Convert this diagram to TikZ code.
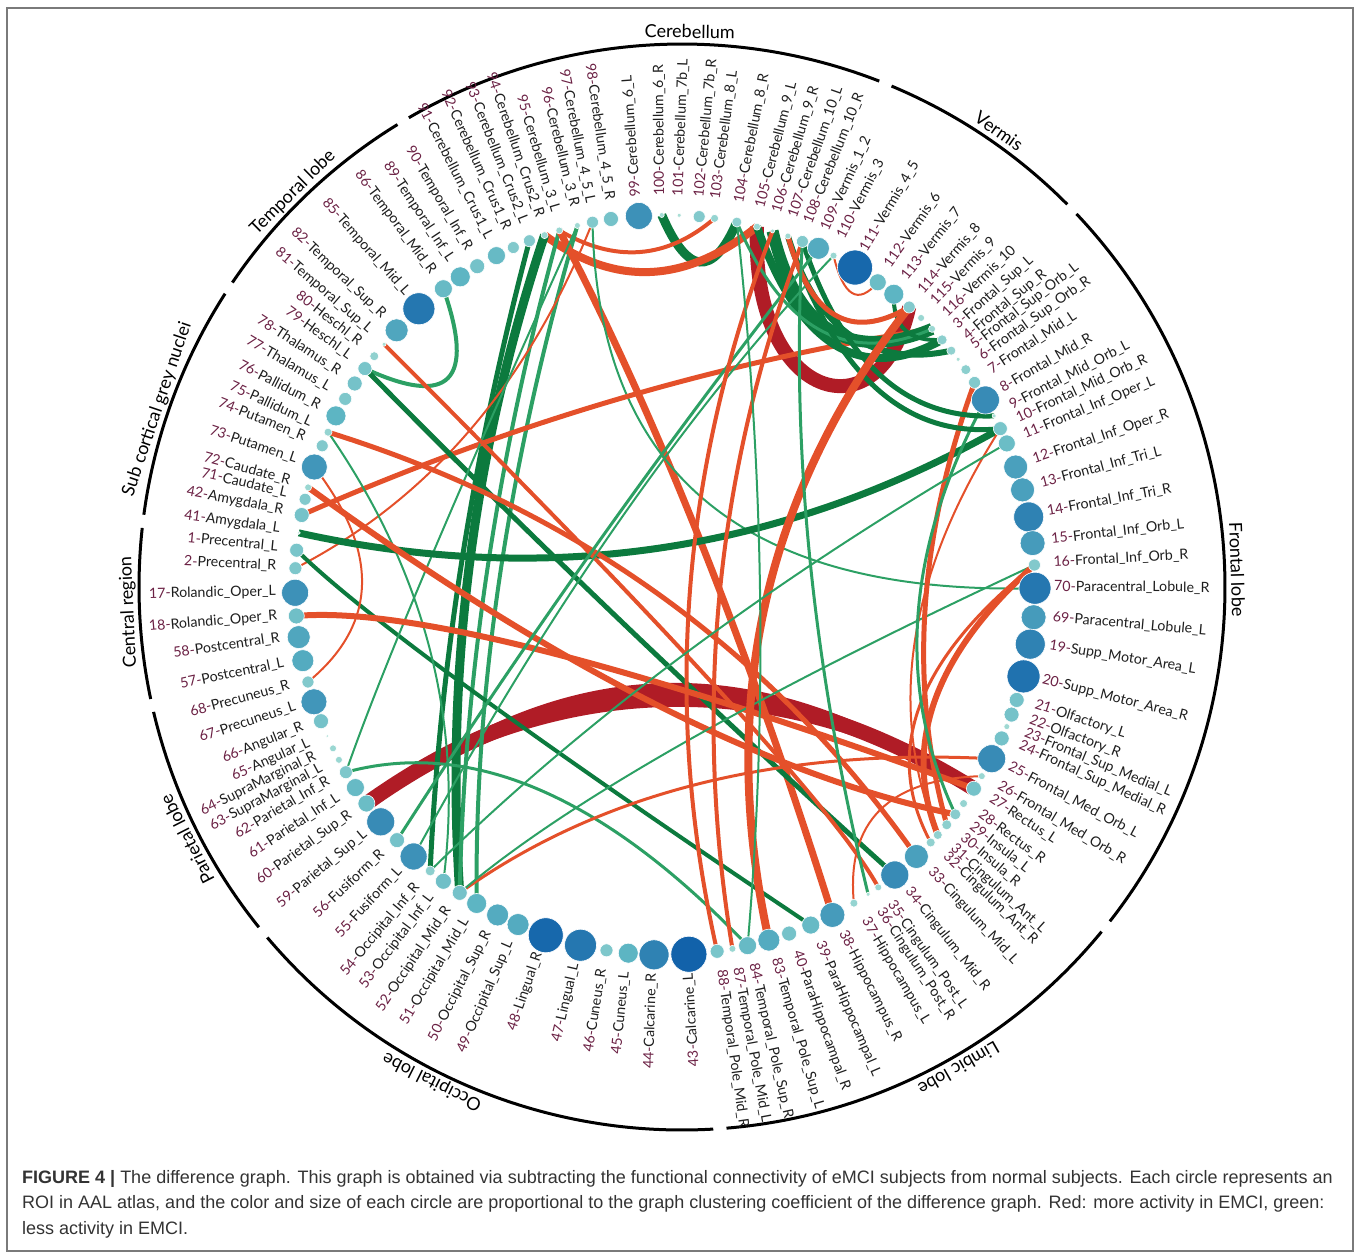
\documentclass[tikz,border=0pt]{standalone}
\usepackage{fontspec}
\setmainfont{Lato}
\newfontfamily\capfont{Liberation Sans}
\usetikzlibrary{calc}
\definecolor{nodepale}{HTML}{A8DED5}
\definecolor{nodemid}{HTML}{5DB5C3}
\definecolor{nodedark}{HTML}{1262AA}
\definecolor{dredc}{HTML}{B01C26}
\definecolor{oredc}{HTML}{E4502A}
\definecolor{dgreenc}{HTML}{0C7A3E}
\definecolor{lgreenc}{HTML}{2CA064}
\definecolor{numc}{HTML}{6B2144}
\definecolor{namec}{HTML}{1E1E1E}
\definecolor{framec}{HTML}{7A7A7A}
\definecolor{capc}{HTML}{333333}
\pgfdeclarelayer{edges}
\pgfsetlayers{edges,main}
\tikzset{
  roi/.style={circle, inner sep=0pt, draw=white, line width=0.6pt},
  roilabel/.style={inner sep=0pt, font=\fontsize{14.2}{15}\selectfont, text=namec},
  lobe/.style={inner sep=0pt, font=\fontsize{18}{20}\selectfont},
  lobearc/.style={line width=3pt}
}
\begin{document}
\begin{tikzpicture}[x=1pt,y=1pt]
\useasboundingbox (0,0) rectangle (1360,-1253);
\draw[framec, line width=1.5pt] (7,-8) rectangle (1353,-1251);
\coordinate (O) at (665,-585);
\coordinate (L) at (682,-587);

\foreach \s/\e in {68.7/120.2, 44.8/67.3, -38.0/43.4, -85.3/-39.4, -139.8/-86.7,
    -166.7/-141.2, 173.75/191.9, 147.3/172.35, 121.6/145.9}
  \draw[lobearc] ($(L)+(\s:543)$) arc[start angle=\s, end angle=\e, radius=543];

\foreach \t/\a in {Cerebellum/89.2, Vermis/55.2, Frontal lobe/1.8, Limbic lobe/-60.1,
    Occipital lobe/-116.8, Parietal lobe/-153, Central region/182.6,
    Sub cortical grey nuclei/161.3, Temporal lobe/134.6}
  \node[lobe, rotate=\a-90, anchor=base] (lobe\a) at ($(L)+(\a:549)$) {\t};

\foreach \i/\a/\rr/\nm in {
    91/117.1/9/Cerebellum\_Crus1\_L, 92/114.2/6/Cerebellum\_Crus1\_R,
    93/111.5/6/Cerebellum\_Crus2\_L, 94/109.0/3.5/Cerebellum\_Crus2\_R,
    95/106.6/3.5/Cerebellum\_3\_L, 96/103.7/3/Cerebellum\_3\_R,
    97/101.3/6/Cerebellum\_4\_5\_L, 98/98.4/7.5/Cerebellum\_4\_5\_R,
    99/94.05/13.5/Cerebellum\_6\_L, 100/90.5/2.5/Cerebellum\_6\_R,
    101/87.8/2/Cerebellum\_7b\_L, 102/84.7/6/Cerebellum\_7b\_R,
    103/82.3/4/Cerebellum\_8\_L, 104/78.8/5/Cerebellum\_8\_R,
    105/75.6/3.5/Cerebellum\_9\_L, 106/73.1/2/Cerebellum\_9\_R,
    107/70.6/3/Cerebellum\_10\_L, 108/68.2/6/Cerebellum\_10\_R,
    109/65.5/11/Vermis\_1\_2, 110/62.9/3.5/Vermis\_3,
    111/59.1/17.5/Vermis\_4\_5, 112/54.9/8.5/Vermis\_6,
    113/51.8/10/Vermis\_7, 114/48.7/6/Vermis\_8,
    115/46.2/3.5/Vermis\_9, 116/43.8/3.5/Vermis\_10,
    3/41.5/5/Frontal\_Sup\_L, 4/39.3/4.5/Frontal\_Sup\_R,
    5/37.6/2/Frontal\_Sup\_Orb\_L, 6/35.6/5/Frontal\_Sup\_Orb\_R,
    7/33.2/6/Frontal\_Mid\_L, 8/30.0/14/Frontal\_Mid\_R,
    9/27.2/2/Frontal\_Mid\_Orb\_L, 10/25.0/7/Frontal\_Mid\_Orb\_R,
    11/22.5/8.5/Frontal\_Inf\_Oper\_L, 12/18.6/12/Frontal\_Inf\_Oper\_R,
    13/14.9/12/Frontal\_Inf\_Tri\_L, 14/10.6/15/Frontal\_Inf\_Tri\_R,
    15/6.5/12.5/Frontal\_Inf\_Orb\_L, 16/3.1/6/Frontal\_Inf\_Orb\_R,
    70/-0.5/16/Paracentral\_Lobule\_R, 69/-5.0/12.5/Paracentral\_Lobule\_L,
    19/-9.2/15/Supp\_Motor\_Area\_L, 20/-14.3/16.5/Supp\_Motor\_Area\_R,
    21/-18.1/7.5/Olfactory\_L, 22/-20.5/7.5/Olfactory\_R,
    23/-22.5/3/Frontal\_Sup\_Medial\_L, 24/-24.5/7.5/Frontal\_Sup\_Medial\_R,
    25/-28.0/14/Frontal\_Med\_Orb\_L, 26/-31.1/3.5/Frontal\_Med\_Orb\_R,
    27/-33.4/7.5/Rectus\_L, 28/-36.2/4/Rectus\_R,
    29/-38.3/5.5/Insula\_L, 30/-40.4/5/Insula\_R,
    31/-42.5/4.5/Cingulum\_Ant\_L, 32/-44.1/4.5/Cingulum\_Ant\_R,
    33/-47.2/12/Cingulum\_Mid\_L, 34/-51.6/14/Cingulum\_Mid\_R,
    35/-54.8/3.5/Cingulum\_Post\_L, 36/-56.7/2/Cingulum\_Post\_R,
    37/-59.3/4/Hippocampus\_L, 38/-63.1/12.5/Hippocampus\_R,
    39/-66.8/9/ParaHippocampal\_L, 40/-70.4/7.5/ParaHippocampal\_R,
    83/-73.7/11/Temporal\_Pole\_Sup\_L, 84/-77.1/9/Temporal\_Pole\_Sup\_R,
    87/-79.5/3.5/Temporal\_Pole\_Mid\_L, 88/-81.9/7/Temporal\_Pole\_Mid\_R,
    43/-86.3/18/Calcarine\_L, 44/-91.7/15/Calcarine\_R,
    45/-95.7/10/Cuneus\_L, 46/-99.1/6.5/Cuneus\_R,
    47/-103.2/16/Lingual\_L, 48/-108.8/17.5/Lingual\_R,
    49/-113.4/11/Occipital\_Sup\_L, 50/-116.9/11/Occipital\_Sup\_R,
    51/-120.6/10/Occipital\_Mid\_L, 52/-123.7/7.5/Occipital\_Mid\_R,
    53/-126.8/8/Occipital\_Inf\_L, 54/-129.4/5/Occipital\_Inf\_R,
    55/-132.8/13.5/Fusiform\_L, 56/-136.4/7.5/Fusiform\_R,
    59/-140.2/14/Parietal\_Sup\_L, 60/-143.8/8.5/Parietal\_Sup\_R,
    61/-146.8/9/Parietal\_Inf\_L, 62/-149.6/6.5/Parietal\_Inf\_R,
    63/-151.8/3.5/SupraMarginal\_L, 64/-153.8/3.5/SupraMarginal\_R,
    65/-155.9/1.5/Angular\_L, 66/-158.4/7.5/Angular\_R,
    67/-161.6/13/Precuneus\_L, 68/-164.8/6/Precuneus\_R,
    57/-168.2/11/Postcentral\_L, 58/-171.9/11.5/Postcentral\_R,
    18/-175.2/8/Rolandic\_Oper\_R, 17/-178.8/13.5/Rolandic\_Oper\_L,
    2/177.4/6.5/Precentral\_R, 1/174.6/7/Precentral\_L,
    41/171.9/1.5/Amygdala\_L, 42/169.1/7.5/Amygdala\_R,
    71/166.6/6/Caudate\_L, 72/164.7/3.5/Caudate\_R,
    73/161.4/13/Putamen\_L, 74/157.9/6/Putamen\_R,
    75/155.6/4/Pallidum\_L, 76/152.8/10/Pallidum\_R,
    77/149.8/6.5/Thalamus\_L, 78/147.0/7.5/Thalamus\_R,
    79/144.2/7/Heschl\_L, 80/141.8/4.5/Heschl\_R,
    81/139.4/2/Temporal\_Sup\_L, 82/136.5/11.5/Temporal\_Sup\_R,
    85/131.7/16/Temporal\_Mid\_L, 86/126.8/9/Temporal\_Mid\_R,
    89/123.6/10/Temporal\_Inf\_L, 90/120.5/7.5/Temporal\_Inf\_R} {
  \pgfmathtruncatemacro\pa{min(100,max(0,(\rr-2)*12.5))}
  \pgfmathtruncatemacro\pb{min(100,max(0,(\rr-10)*12.5))}
  \colorlet{tmpc}{nodemid!\pa!nodepale}
  \colorlet{roic}{nodedark!\pb!tmpc}
  \node[roi, fill=roic, minimum size=2*\rr pt] (n\i) at ($(O)+(\a:370)$) {};
  \pgfmathtruncatemacro\rh{and(\a>-84,\a<96)}
  \ifnum\rh=1
    \node[roilabel, rotate=\a, anchor=mid west] (l\i) at ($(O)+(\a:389)$) {\textcolor{numc}{\i-}\nm};
  \else
    \node[roilabel, rotate=\a+180, anchor=mid east] (l\i) at ($(O)+(\a:389)$) {\textcolor{numc}{\i-}\nm};
  \fi
}

\begin{pgfonlayer}{edges}
\coordinate (mt) at (665,-683);
\coordinate (mb) at (665,-707);
\fill[dredc] (n60.center) .. controls ($1.33333*(mt)-0.33333*(n27.center)$) and ($1.33333*(mt)-0.33333*(n60.center)$) .. (n27.center)
  .. controls ($1.33333*(mb)-0.33333*(n60.center)$) and ($1.33333*(mb)-0.33333*(n27.center)$) .. (n60.center) -- cycle;
\draw[dredc, line width=14pt] (n105.center) .. controls (750,-400) and (880,-440) .. (n114.center);
\foreach \na/\nb/\col/\lw/\mx/\my in {
    60/27/dredc/15/665/695,
    100/104/dgreenc/9/700/262, 94/105/oredc/8/650/272,
    95/103/oredc/4/640/252, 94/52/dgreenc/9/470/560,
    95/52/lgreenc/4/488/565, 96/51/lgreenc/4/500/575,
    93/54/dgreenc/5/462/560, 95/38/oredc/7/700/540,
    97/70/lgreenc/2/707/502, 42/116/oredc/5/615/400,
    97/2/oredc/2/470/430, 86/79/lgreenc/4/448/378,
    79/34/dgreenc/5/625/625, 1/39/dgreenc/4/474/692,
    73/68/oredc/2/362/585, 75/53/lgreenc/2/430/650,
    62/96/lgreenc/2/430/560, 62/84/lgreenc/3/540/790,
    41/10/dgreenc/7/660/548, 18/27/oredc/6/548/652,
    72/29/oredc/6/657/705, 75/33/oredc/5/661/596,
    81/35/oredc/4/725/697, 52/25/oredc/3/698/784,
    26/37/oredc/2/880/810, 16/52/lgreenc/2/680/745,
    16/31/oredc/6/935/700, 16/32/oredc/3/920/705,
    7/30/oredc/5/925/610, 10/31/oredc/2/915/640,
    8/29/lgreenc/3/918/615, 106/116/dgreenc/12/830/330,
    105/3/dgreenc/8/835/345, 107/4/dgreenc/6/850/335,
    104/116/lgreenc/3/820/330, 108/9/dgreenc/5/880/375,
    107/10/dgreenc/5/876/388, 110/55/lgreenc/2/620/520,
    109/56/lgreenc/3/600/540, 110/112/oredc/2/852/293,
    113/3/dgreenc/4/905/330, 107/114/oredc/5/835/315,
    114/83/oredc/8/765/605, 106/88/oredc/4/690/590,
    108/87/oredc/4/720/590, 108/36/lgreenc/3/810/560,
    104/84/lgreenc/2/760/590, 11/54/lgreenc/2/690/650} {
  \coordinate (m) at (\mx,-\my);
  \draw[\col, line width=\lw pt] (n\na.center) .. controls ($1.33333*(m)-0.33333*(n\nb.center)$)
    and ($1.33333*(m)-0.33333*(n\na.center)$) .. (n\nb.center);
}
\end{pgfonlayer}

\node[anchor=north west, inner sep=0pt, text=capc, align=left,
  font=\capfont\fontsize{18}{25.5}\selectfont] (caption) at (22,-1170)
  {\textbf{FIGURE 4 |} The difference graph. This graph is obtained via subtracting the functional connectivity of eMCI subjects from normal subjects. Each circle represents an\\
   ROI in AAL atlas, and the color and size of each circle are proportional to the graph clustering coefficient of the difference graph. Red: more activity in EMCI, green:\\
   less activity in EMCI.};
\end{tikzpicture}
\end{document}
